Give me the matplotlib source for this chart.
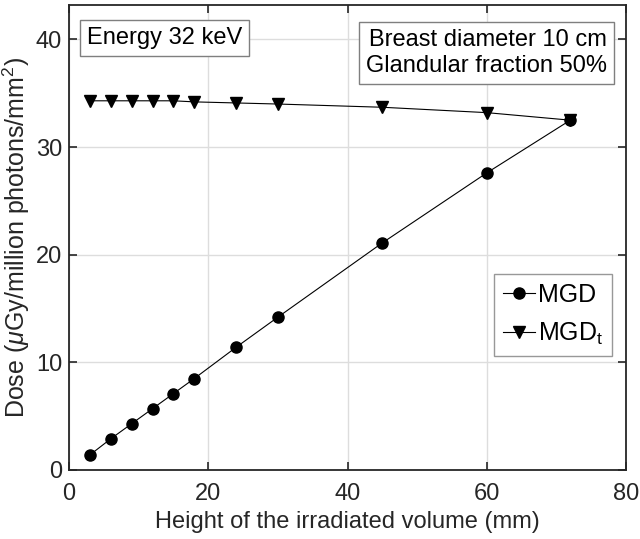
import numpy as np
import matplotlib
matplotlib.use("Agg")
import matplotlib.pyplot as plt

plt.rcParams.update({
    "font.family": ["Liberation Sans", "DejaVu Sans"],
    "mathtext.fontset": "custom",
    "mathtext.rm": "Liberation Sans",
    "mathtext.it": "Liberation Sans:italic",
})

# ── data ──────────────────────────────────────────────────────────────────────
height = [3, 6, 9, 12, 15, 18, 24, 30, 45, 60, 72]
mgd    = [1.4, 2.9, 4.3, 5.7, 7.1, 8.5, 11.4, 14.2, 21.1, 27.6, 32.5]
mgd_t  = [34.3, 34.3, 34.3, 34.3, 34.3, 34.2, 34.1, 34.0, 33.7, 33.2, 32.5]

FS = 17
INK = "#262626"

fig = plt.figure(figsize=(6.4, 5.39), dpi=100)
ax = fig.add_axes([69 / 640, 1 - 470 / 539, (626 - 69) / 640, (470 - 5) / 539])

ax.plot(height, mgd, "-o", color="black", lw=0.8, ms=8, label="MGD", zorder=3)
ax.plot(height, mgd_t, "-v", color="black", lw=0.8, ms=8,
        label="MGD$_\\mathregular{t}$", zorder=3)

ax.set_xlim(0, 80)
ax.set_ylim(0, 43.2)
ax.set_xticks([0, 20, 40, 60, 80])
ax.set_yticks([0, 10, 20, 30, 40])
ax.grid(True, color="#dddddd", lw=1)
ax.set_axisbelow(True)
ax.tick_params(direction="in", top=True, right=True, length=6, width=1.2,
               labelsize=FS, colors=INK, pad=5)
ax.tick_params(axis="x", pad=9)
for sp in ax.spines.values():
    sp.set_linewidth(1.3)
    sp.set_color(INK)

ax.set_xlabel("Height of the irradiated volume (mm)", fontsize=FS, color=INK, labelpad=5)
ax.set_ylabel("Dose ($\\mu$Gy/million photons/mm$^\\mathregular{2}$)", fontsize=18,
              color=INK, labelpad=3)

box = dict(boxstyle="square,pad=0.3", fc="white", ec="#7f7f7f", lw=1)
ax.text(0.032, 0.953, "Energy 32 keV", transform=ax.transAxes, fontsize=FS,
        va="top", ha="left", bbox=box)
ax.text(0.966, 0.948, "Breast diameter 10 cm\nGlandular fraction 50%",
        transform=ax.transAxes, fontsize=FS, va="top", ha="right",
        bbox=box, linespacing=1.2)

leg = ax.legend(loc="center right", bbox_to_anchor=(0.975, 0.333), fontsize=18,
                frameon=True, fancybox=False, edgecolor="#7f7f7f",
                handlelength=1.3, handletextpad=0.1, borderpad=0.35,
                labelspacing=0.55, borderaxespad=0)
leg.get_frame().set_linewidth(1)

fig.savefig("out.png", dpi=100)
